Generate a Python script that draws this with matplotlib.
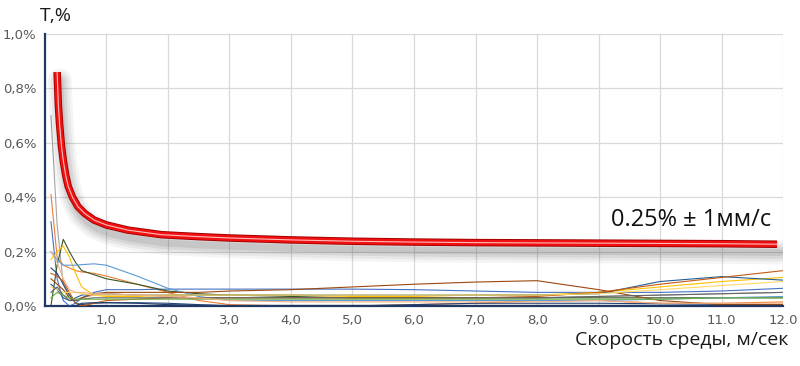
import matplotlib
matplotlib.use("Agg")
import matplotlib.pyplot as plt
import matplotlib.transforms as mtransforms
from matplotlib.ticker import FixedLocator, FuncFormatter

# red reference curve (limit of error, %)
red_x = [0.2, 0.21, 0.22, 0.24, 0.27, 0.3, 0.34, 0.38, 0.45, 0.54, 0.65, 0.8, 1.0,
         1.35, 1.9, 2.5, 3.0, 4.0, 5.0, 6.0, 7.0, 8.0, 9.0, 10.0, 11.0, 11.9]
red_y = [0.86, 0.80, 0.74, 0.67, 0.59, 0.535, 0.48, 0.44, 0.40, 0.365, 0.34, 0.316,
         0.298, 0.279, 0.262, 0.255, 0.250, 0.243, 0.238, 0.235, 0.233, 0.232, 0.231,
         0.230, 0.229, 0.227]

# measured meters (error, %)
xs = [0.1, 0.2, 0.3, 0.4, 0.5, 0.6, 0.8, 1.0, 1.5, 2.0, 2.5, 3.0, 4.0, 5.0, 6.0,
      7.0, 8.0, 9.0, 10.0, 11.0, 12.0]
s_gray = [0.70, 0.30, 0.08, 0.03, 0.02, 0.03, 0.04, 0.04, 0.04, 0.035, 0.03, 0.03, 0.03, 0.03, 0.03, 0.03, 0.03, 0.035, 0.04, 0.045, 0.05]
s_orange = [0.41, 0.18, 0.15, 0.14, 0.13, 0.125, 0.12, 0.11, 0.08, 0.05, 0.02, 0.005, 0.0, 0.0, 0.005, 0.01, 0.02, 0.02, 0.01, 0.01, 0.015]
s_blue = [0.31, 0.10, 0.02, 0.0, 0.01, 0.03, 0.05, 0.06, 0.06, 0.062, 0.062, 0.062, 0.062, 0.062, 0.06, 0.055, 0.05, 0.05, 0.05, 0.055, 0.065]
s_dkgreen = [0.0, 0.15, 0.245, 0.20, 0.16, 0.13, 0.115, 0.10, 0.08, 0.055, 0.045, 0.04, 0.035, 0.03, 0.03, 0.03, 0.03, 0.03, 0.03, 0.03, 0.03]
s_gold = [0.17, 0.20, 0.22, 0.18, 0.12, 0.07, 0.04, 0.035, 0.035, 0.04, 0.04, 0.04, 0.04, 0.035, 0.035, 0.04, 0.04, 0.05, 0.07, 0.09, 0.105]
s_ltblue = [0.20, 0.17, 0.15, 0.15, 0.15, 0.152, 0.155, 0.15, 0.11, 0.065, 0.035, 0.02, 0.02, 0.02, 0.02, 0.02, 0.02, 0.02, 0.025, 0.03, 0.035]
s_dkblue = [0.14, 0.12, 0.08, 0.04, 0.01, 0.005, 0.01, 0.012, 0.012, 0.01, 0.005, 0.0, 0.0, 0.0, 0.005, 0.01, 0.01, 0.01, 0.008, 0.006, 0.005]
s_steel = [0.08, 0.06, 0.03, 0.02, 0.03, 0.04, 0.045, 0.045, 0.04, 0.04, 0.04, 0.04, 0.04, 0.04, 0.04, 0.04, 0.04, 0.045, 0.09, 0.108, 0.095]
s_brown = [0.10, 0.08, 0.06, 0.03, 0.02, 0.03, 0.045, 0.05, 0.05, 0.05, 0.05, 0.055, 0.06, 0.07, 0.08, 0.088, 0.093, 0.06, 0.02, 0.005, 0.005]
s_rust = [0.12, 0.11, 0.09, 0.05, 0.01, 0.0, 0.01, 0.02, 0.025, 0.03, 0.03, 0.03, 0.03, 0.03, 0.03, 0.03, 0.035, 0.05, 0.08, 0.105, 0.13]
s_ltgold = [0.07, 0.06, 0.05, 0.05, 0.05, 0.045, 0.04, 0.04, 0.04, 0.04, 0.04, 0.04, 0.04, 0.04, 0.04, 0.04, 0.04, 0.045, 0.06, 0.075, 0.09]
s_dkgray = [0.05, 0.07, 0.04, 0.02, 0.02, 0.025, 0.03, 0.03, 0.03, 0.03, 0.03, 0.03, 0.03, 0.03, 0.03, 0.03, 0.03, 0.035, 0.04, 0.045, 0.05]
s_green = [0.03, 0.05, 0.04, 0.03, 0.025, 0.025, 0.025, 0.025, 0.025, 0.025, 0.025, 0.025, 0.025, 0.025, 0.025, 0.025, 0.025, 0.025, 0.025, 0.03, 0.03]
s_navy = [0.0, 0.0, 0.0, 0.0, 0.0, 0.01, 0.012, 0.012, 0.01, 0.005, 0.003, 0.002, 0.002, 0.002, 0.002, 0.002, 0.002, 0.002, 0.002, 0.002, 0.002]
s_peach = [0.20, 0.16, 0.10, 0.06, 0.05, 0.05, 0.045, 0.045, 0.04, 0.035, 0.03, 0.02, 0.015, 0.015, 0.015, 0.015, 0.015, 0.02, 0.01, 0.01, 0.01]

series = [
    (s_gray, "#A5A5A5"), (s_orange, "#ED7D31"), (s_blue, "#4472C4"),
    (s_dkgreen, "#375623"), (s_gold, "#FFC000"), (s_ltblue, "#5B9BD5"),
    (s_dkblue, "#264478"), (s_steel, "#255E91"), (s_brown, "#9E480E"),
    (s_rust, "#C55A11"), (s_ltgold, "#FFD966"), (s_dkgray, "#636363"),
    (s_green, "#70AD47"), (s_navy, "#1F3864"), (s_peach, "#F4B183"),
]

x_ticks = [1, 2, 3, 4, 5, 6, 7, 8, 9, 10, 11, 12]
x_labels = ["1,0", "2,0", "3,0", "4,0", "5,0", "6,0", "7,0", "8,0",
            "9.0", "10.0", "11.0", "12.0"]
y_ticks = [0.0, 0.2, 0.4, 0.6, 0.8, 1.0]

fig = plt.figure(figsize=(8.0, 3.66), dpi=100)
ax = fig.add_axes([0.056, 0.164, 0.923, 0.743])

for vals, col in series:
    ax.plot(xs, vals, color=col, linewidth=0.8, zorder=3)

# soft drop shadow under the red curve
shadow = mtransforms.offset_copy(ax.transData, fig=fig, x=2, y=-6, units="points")
for lw, a in [(17, 0.06), (13, 0.08), (9, 0.10), (5, 0.12)]:
    ax.plot(red_x, red_y, color="#505050", linewidth=lw, alpha=a,
            solid_capstyle="round", solid_joinstyle="round", transform=shadow, zorder=4)

ax.plot(red_x, red_y, color="#A00000", linewidth=5.4, solid_capstyle="butt",
        solid_joinstyle="round", zorder=5)
ax.plot(red_x, red_y, color="#F01010", linewidth=4.1, solid_capstyle="butt",
        solid_joinstyle="round", zorder=6)
ax.plot(red_x, red_y, color="#FFD0D0", linewidth=0.8, alpha=0.9,
        solid_joinstyle="round", zorder=7)

ax.set_xlim(0, 12)
ax.set_ylim(0, 1.0)
ax.xaxis.set_major_locator(FixedLocator(x_ticks))
ax.set_xticklabels(x_labels)
ax.yaxis.set_major_locator(FixedLocator(y_ticks))
ax.yaxis.set_major_formatter(FuncFormatter(lambda v, p: f"{v:.1f}%".replace(".", ",")))
ax.tick_params(length=0, labelsize=9.5, labelcolor="#595959", pad=6)

ax.grid(True, color="#D9D9D9", linewidth=0.9)
ax.set_axisbelow(True)
for side in ["top", "right"]:
    ax.spines[side].set_visible(False)
for side in ["left", "bottom"]:
    ax.spines[side].set_color("#1F3864")
    ax.spines[side].set_linewidth(1.6)

fig.text(0.05, 0.955, "T,%", fontsize=14, ha="left", va="center", color="#1A1A1A",
         family=["Open Sans", "DejaVu Sans"])
fig.text(0.985, 0.07, "Скорость среды, м/сек", fontsize=14, ha="right", va="center",
         color="#1A1A1A", family=["Open Sans", "DejaVu Sans"])
ax.text(11.8, 0.315, "0.25% \u00b1 1мм/с", fontsize=17, ha="right", va="center",
        color="#111111", family=["Open Sans", "DejaVu Sans"], zorder=8)

fig.savefig("out.png", dpi=100, facecolor="white")
